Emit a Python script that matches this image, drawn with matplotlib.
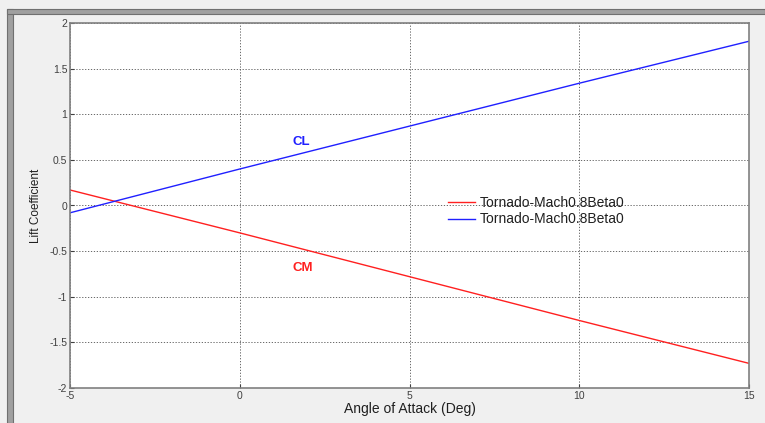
import numpy as np
import matplotlib
matplotlib.use("Agg")
import matplotlib.pyplot as plt
from matplotlib.patches import Rectangle

# angle of attack (deg) and coefficients
alpha = [-5, 0, 5, 10, 15]
cl = [-0.08, 0.40, 0.87, 1.34, 1.80]
cm = [0.17, -0.30, -0.78, -1.26, -1.73]
series_label = "Tornado-Mach0.8Beta0"
xticks = [-5, 0, 5, 10, 15]
yticks = [-2, -1.5, -1, -0.5, 0, 0.5, 1, 1.5, 2]

plt.rcParams["font.family"] = ["Liberation Sans", "DejaVu Sans"]

fig = plt.figure(figsize=(7.65, 4.23), dpi=100, facecolor="#f0f0f0")
W, H = 765, 423

# window frame (left and top borders)
fig.patches.append(Rectangle((7 / W, 0), 6 / W, 1 - 9 / H, transform=fig.transFigure,
                             facecolor="#a0a0a0", edgecolor="#707070", lw=0.8, zorder=0))
fig.patches.append(Rectangle((7 / W, 1 - 14 / H), 1 - 7 / W, 5 / H, transform=fig.transFigure,
                             facecolor="#a0a0a0", edgecolor="#707070", lw=0.8, zorder=0))

ax = fig.add_axes([70 / W, 1 - 388 / H, (749 - 70) / W, (388 - 23) / H])
ax.plot(alpha, cm, color="#ff2020", lw=1.0, label=series_label)
ax.plot(alpha, cl, color="#2020ff", lw=1.0, label=series_label)

ax.set_xlim(-5, 15)
ax.set_ylim(-2, 2)
ax.set_xticks(xticks)
ax.set_yticks(yticks)
ax.set_xticklabels([f"{v:g}" for v in xticks])
ax.set_yticklabels([f"{v:g}" for v in yticks])
ax.tick_params(direction="in", length=3, labelsize=7.5, colors="#404040", pad=2)
ax.grid(True, color="#505050", ls=(0, (1.5, 2)), lw=0.6)
for s in ax.spines.values():
    s.set_color("#808080")
    s.set_linewidth(1.2)

ax.set_xlabel("Angle of Attack (Deg)", fontsize=10, color="#202020", labelpad=1)
ax.set_ylabel("Lift Coefficient", fontsize=8.5, color="#202020", labelpad=5)

ax.text(1.8, 0.70, "CL", color="#2020ff", fontsize=9.5, fontweight="bold", ha="center", va="center")
ax.text(1.85, -0.68, "CM", color="#ff2020", fontsize=9.5, fontweight="bold", ha="center", va="center")

ax.legend(loc="center left", bbox_to_anchor=(435 / W, 1 - 211 / H), bbox_transform=fig.transFigure,
          frameon=False, fontsize=10, handlelength=2.0, handletextpad=0.35, labelspacing=0.2,
          labelcolor="#202020")

fig.savefig("out.png", dpi=100, facecolor=fig.get_facecolor())
